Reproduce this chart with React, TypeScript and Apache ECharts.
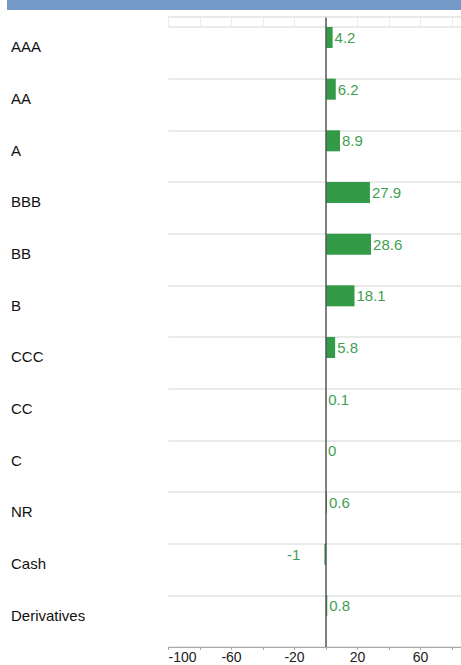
import React, { useEffect, useRef } from "react";
import * as echarts from "echarts";

const categories = ["AAA", "AA", "A", "BBB", "BB", "B", "CCC", "CC", "C", "NR", "Cash", "Derivatives"];
const values = [4.2, 6.2, 8.9, 27.9, 28.6, 18.1, 5.8, 0.1, 0, 0.6, -1, 0.8];
const xMin = -100;
const xMax = 100;
const xStep = 20;

const GREEN = "#339a47";
const LABEL_GREEN = "#3f9f50";

export default function App() {
  const ref = useRef<HTMLDivElement>(null);
  useEffect(() => {
    document.body.style.margin = "0";
    const chart = echarts.init(ref.current!, undefined, { renderer: "svg" });
    const gridLeft = 168.5;
    const gridWidth = 315;
    const band = 620 / categories.length;
    const barH = 21;
    chart.setOption({
      animation: false,
      textStyle: { fontFamily: "Liberation Sans, Arial, sans-serif" },
      graphic: [
        { type: "rect", shape: { x: 7, y: 0, width: 454, height: 10 }, style: { fill: "#7399c7" } },
      ],
      grid: [
        { left: gridLeft, top: 27, width: gridWidth, height: 620, outerBoundsMode: "none", containLabel: false },
        { left: gridLeft, top: 17, width: gridWidth, height: 10, outerBoundsMode: "none", containLabel: false },
      ],
      xAxis: [
        {
          type: "value",
          gridIndex: 0,
          min: xMin,
          max: xMax,
          interval: xStep,
          splitLine: { show: false },
          axisLine: { show: true, lineStyle: { color: "#a8a8a8", width: 1 } },
          axisTick: { show: true, length: 3, lineStyle: { color: "#a8a8a8" } },
          axisLabel: {
            margin: 3,
            fontSize: 14,
            lineHeight: 14,
            color: "#222",
            alignMinLabel: "left",
            showMaxLabel: false,
            formatter: (v: number) => (((v - xMin) / xStep) % 2 === 0 ? String(v) : ""),
          },
        },
        {
          type: "value",
          gridIndex: 1,
          min: xMin,
          max: xMax,
          interval: xStep,
          position: "top",
          splitLine: { show: true, lineStyle: { color: "#ebebeb", width: 1 } },
          axisLine: { show: true, lineStyle: { color: "#e2e2e2", width: 1.5 } },
          axisTick: { show: false },
          axisLabel: { show: false },
        },
      ],
      yAxis: [
        {
          type: "category",
          gridIndex: 0,
          inverse: true,
          data: categories,
          axisLine: { show: false, onZero: false },
          axisTick: { show: false },
          splitLine: { show: true, lineStyle: { color: "#e3e3e3", width: 1.5 } },
          axisLabel: {
            align: "left",
            verticalAlign: "bottom",
            lineHeight: 12,
            margin: gridLeft - 11,
            fontSize: 15,
            color: "#111",
          },
        },
        {
          type: "category",
          gridIndex: 1,
          data: [""],
          axisLine: { show: true, onZero: true, lineStyle: { color: "#555", width: 1.5 } },
          axisTick: { show: false },
          axisLabel: { show: false },
          splitLine: { show: false },
        },
      ],
      series: [
        {
          type: "bar",
          xAxisIndex: 0,
          yAxisIndex: 0,
          barWidth: barH,
          barGap: "0%",
          itemStyle: { color: GREEN },
          label: {
            show: true,
            position: "right",
            distance: 2,
            fontSize: 15,
            color: LABEL_GREEN,
          },
          data: values.map((v) =>
            v < 0 ? { value: v, label: { position: "left", distance: 24 } } : v
          ),
          markLine: {
            silent: true,
            symbol: "none",
            label: { show: false },
            lineStyle: { color: "#555", width: 1.5, type: "solid" },
            data: [{ xAxis: 0 }],
          },
        },
        {
          type: "bar",
          name: "pad",
          xAxisIndex: 0,
          yAxisIndex: 0,
          barWidth: band - barH,
          data: categories.map(() => "-"),
        },
        {
          type: "bar",
          xAxisIndex: 1,
          yAxisIndex: 1,
          data: ["-"],
        },
      ],
    });
    return () => chart.dispose();
  }, []);
  return <div ref={ref} style={{ width: 461, height: 665 }} />;
}
